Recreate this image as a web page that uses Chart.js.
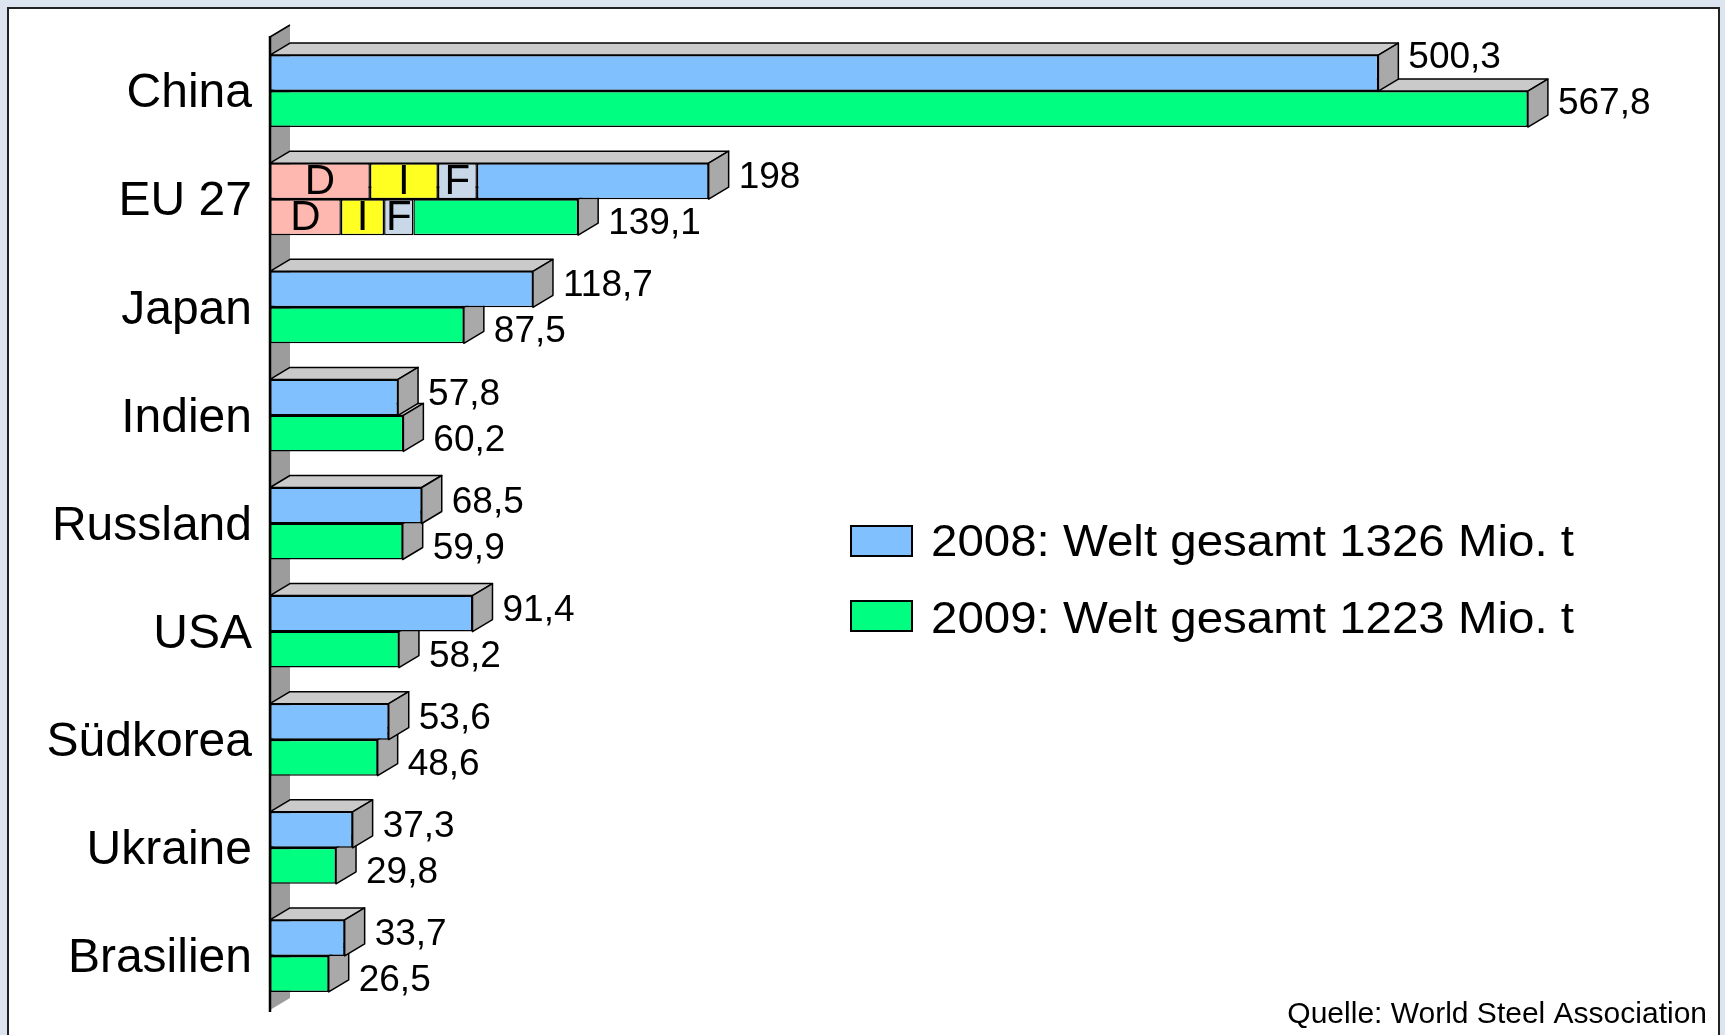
<!DOCTYPE html>
<html>
<head>
<meta charset="utf-8">
<title>Rohstahlproduktion 2008 / 2009</title>
<script src="https://cdn.jsdelivr.net/npm/chart.js@4.4.1/dist/chart.umd.min.js"></script>
<style>
  html, body { margin: 0; padding: 0; background: #dce4f0; }
  #panel { position: absolute; left: 7px; top: 7px; width: 1709px; height: 1040px; background: #fff; border: 2px solid #222; }
  #wrap { position: absolute; left: 0; top: 0; width: 1725px; height: 1035px; }
</style>
</head>
<body>
<div id="panel"></div>
<div id="wrap"><canvas id="steelChart" width="1725" height="1035"></canvas></div>
<script>
"use strict";

// data (Mio. t)
const countries = ["China", "EU 27", "Japan", "Indien", "Russland", "USA", "Südkorea", "Ukraine", "Brasilien"];
const prod2008 = [500.3, 198, 118.7, 57.8, 68.5, 91.4, 53.6, 37.3, 33.7];
const prod2009 = [567.8, 139.1, 87.5, 60.2, 59.9, 58.2, 48.6, 29.8, 26.5];
const euParts = ["D", "I", "F"];
const euParts2008 = [45.1, 30.7, 17.6];
const euParts2009 = [32.0, 19.5, 13.2];
const years = ["2008", "2009"];
const worldTotals = [1326, 1223];
const sourceText = "Quelle: World Steel Association";

const FONT = "'Liberation Sans', Arial, Helvetica, sans-serif";
const yearColors = ["#80c0ff", "#00ff80"];
const partColors = ["#ffb8b0", "#ffff22", "#c8d8e8"];
const depthX = 20;
const depthY = 12;

const euIndex = countries.indexOf("EU 27");

function partData(val) {
  return countries.map((c, i) => (i === euIndex ? val : null));
}
function restData(totals, parts) {
  const sum = parts.reduce((a, b) => a + b, 0);
  return totals.map((v, i) => (i === euIndex ? +(v - sum).toFixed(1) : v));
}
function fmt(v) {
  return String(v).replace(".", ",");
}

const datasets = [];
[prod2008, prod2009].forEach(function (totals, k) {
  const parts = k === 0 ? euParts2008 : euParts2009;
  parts.forEach(function (p, j) {
    datasets.push({
      label: euParts[j],
      data: partData(p),
      stack: years[k],
      backgroundColor: partColors[j],
      isPart: true
    });
  });
  datasets.push({
    label: years[k] + ": Welt gesamt " + worldTotals[k] + " Mio. t",
    data: restData(totals, parts),
    totals: totals,
    stack: years[k],
    backgroundColor: yearColors[k],
    isMain: true,
    yearIdx: k
  });
});

function poly(ctx, pts, fill, stroke) {
  ctx.beginPath();
  ctx.moveTo(pts[0][0], pts[0][1]);
  for (let i = 1; i < pts.length; i++) ctx.lineTo(pts[i][0], pts[i][1]);
  ctx.closePath();
  if (fill) { ctx.fillStyle = fill; ctx.fill(); }
  if (stroke) ctx.stroke();
}

function mainIndexes(chart) {
  const out = [];
  chart.data.datasets.forEach((d, i) => { if (d.isMain) out.push(i); });
  return out;
}

// 3D wall, top and side faces
const bars3d = {
  id: "bars3d",
  beforeDatasetsDraw(chart) {
    const ctx = chart.ctx;
    const area = chart.chartArea;
    const xs = chart.scales.x;
    const x0 = xs.getPixelForValue(0);
    ctx.save();
    ctx.lineJoin = "round";

    // wall
    poly(ctx, [[x0, area.bottom], [x0, area.top], [x0 + depthX, area.top - depthY], [x0 + depthX, area.bottom - depthY]], "#9c9c9c", false);
    ctx.strokeStyle = "#000";
    ctx.lineWidth = 1.5;
    ctx.beginPath();
    ctx.moveTo(x0, area.top);
    ctx.lineTo(x0 + depthX, area.top - depthY);
    ctx.stroke();

    ctx.lineWidth = 1.5;
    const mains = mainIndexes(chart);
    for (let c = 0; c < countries.length; c++) {
      for (let m = mains.length - 1; m >= 0; m--) {
        const ds = chart.data.datasets[mains[m]];
        const el = chart.getDatasetMeta(mains[m]).data[c];
        const top = el.y - el.height / 2;
        const bot = el.y + el.height / 2;
        const x1 = xs.getPixelForValue(ds.totals[c]);
        poly(ctx, [[x0, top], [x1, top], [x1 + depthX, top - depthY], [x0 + depthX, top - depthY]], "#cacaca", true);
        poly(ctx, [[x1, top], [x1 + depthX, top - depthY], [x1 + depthX, bot - depthY], [x1, bot]], "#a9a9a9", true);
      }
    }
    ctx.restore();
  },
  afterDatasetsDraw(chart) {
    const ctx = chart.ctx;
    const area = chart.chartArea;
    const xs = chart.scales.x;
    const x0 = xs.getPixelForValue(0);
    ctx.save();

    // axis line
    ctx.strokeStyle = "#000";
    ctx.lineWidth = 2.5;
    ctx.beginPath();
    ctx.moveTo(x0, area.top - 1);
    ctx.lineTo(x0, area.bottom + 2);
    ctx.stroke();

    ctx.fillStyle = "#000";
    ctx.textBaseline = "middle";

    // D / I / F inside EU bars
    ctx.textAlign = "center";
    ctx.font = "42px " + FONT;
    chart.data.datasets.forEach(function (ds, i) {
      if (!ds.isPart) return;
      const el = chart.getDatasetMeta(i).data[euIndex];
      ctx.fillText(ds.label, (el.x + el.base) / 2, el.y + 1);
    });

    // value labels
    ctx.textAlign = "left";
    ctx.font = "37px " + FONT;
    const mains = mainIndexes(chart);
    mains.forEach(function (di) {
      const ds = chart.data.datasets[di];
      const meta = chart.getDatasetMeta(di);
      ds.totals.forEach(function (v, c) {
        const el = meta.data[c];
        const lx = xs.getPixelForValue(v) + depthX + 10;
        const blocked = xs.getPixelForValue(prod2009[c]) + depthX > xs.getPixelForValue(prod2008[c]) + depthX + 11;
        let ly;
        if (ds.yearIdx === 0) ly = blocked ? el.y - el.height / 2 + 3 : el.y - 3;
        else ly = blocked ? el.y - 5 : el.y + 7;
        ctx.fillText(fmt(v), lx, ly);
      });
    });
    ctx.restore();
  },
  afterDraw(chart) {
    const ctx = chart.ctx;
    ctx.save();
    // legend
    const mains = mainIndexes(chart);
    mains.forEach(function (di, k) {
      const ds = chart.data.datasets[di];
      const bx = 851, by = 526 + k * 75;
      ctx.fillStyle = ds.backgroundColor;
      ctx.fillRect(bx, by, 61, 30);
      ctx.strokeStyle = "#000";
      ctx.lineWidth = 2;
      ctx.strokeRect(bx, by, 61, 30);
      ctx.fillStyle = "#000";
      ctx.font = "45px " + FONT;
      ctx.textAlign = "left";
      ctx.textBaseline = "middle";
      ctx.save();
      ctx.translate(931, by + 18 + k * 2);
      ctx.scale(1.055, 1);
      ctx.fillText(ds.label, 0, 0);
      ctx.restore();
    });
    // source
    ctx.fillStyle = "#000";
    ctx.font = "30px " + FONT;
    ctx.textAlign = "right";
    ctx.textBaseline = "alphabetic";
    ctx.fillText(sourceText, 1707, 1023);
    ctx.restore();
  }
};

Chart.defaults.font.family = FONT;
Chart.defaults.color = "#000";

const steelChart = new Chart(document.getElementById("steelChart"), {
  type: "bar",
  data: { labels: countries, datasets: datasets },
  options: {
    indexAxis: "y",
    responsive: false,
    devicePixelRatio: 1,
    animation: false,
    categoryPercentage: 0.666,
    barPercentage: 1,
    borderColor: "#000",
    borderWidth: 1.5,
    borderSkipped: false,
    layout: { padding: { left: 0, top: 37, right: 15, bottom: 25 } },
    scales: {
      x: { display: false, stacked: true, min: 0, max: 650 },
      y: {
        stacked: true,
        grid: { display: false, drawTicks: false },
        border: { display: false },
        ticks: { font: { size: 48 }, padding: 18, color: "#000", labelOffset: 3 },
        afterFit: function (s) {
          s.width = 270;
          s.paddingTop = 0;
          s.paddingBottom = 0;
        }
      }
    },
    plugins: {
      legend: { display: false },
      tooltip: { enabled: false }
    }
  },
  plugins: [bars3d]
});
</script>
</body>
</html>
